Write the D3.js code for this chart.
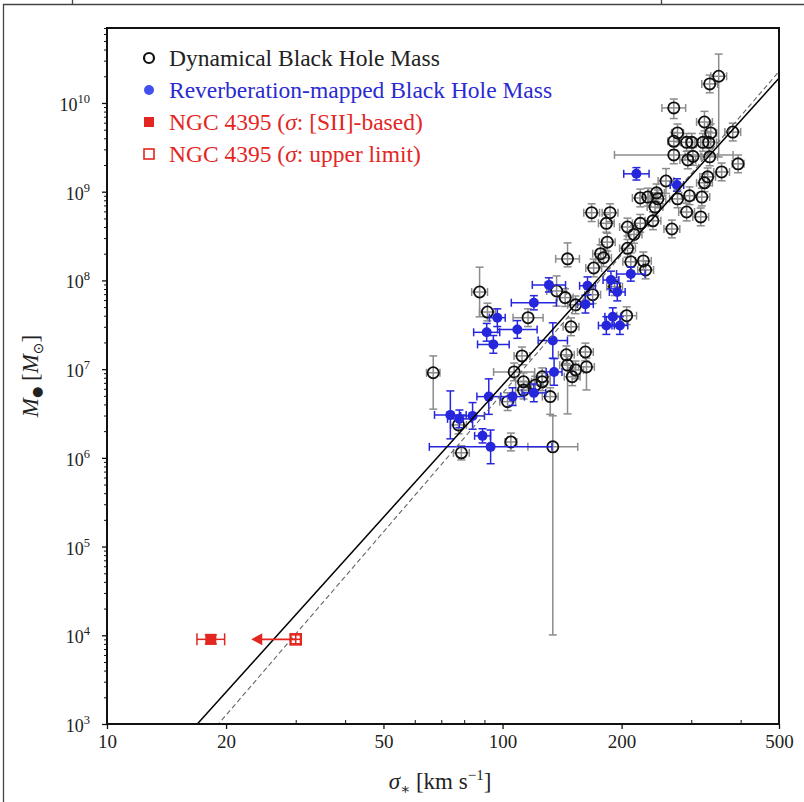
<!DOCTYPE html>
<html><head><meta charset="utf-8">
<script src="https://cdn.jsdelivr.net/npm/d3@7"></script>
<style>body{margin:0;background:#fff;} svg{display:block;} text{font-family:"Liberation Serif","DejaVu Serif",serif;}</style>
</head><body>
<svg id="chart" width="804" height="802"></svg>
<script>
// ---------- data ----------
// Dynamical black-hole masses: sigma [km/s], mass [Msun], sigma error (dex), mass error low/high (dex)
const dynSigma = [352,334,271,324,382,277,336,271,292,301,321,332,271,303,294,334,394,358,330,324,
  259,319,297,277,245,233,223,247,243,292,317,168,187,183,207,223,240,268,215,184,
  207,177,180,146,170,211,227,230,192,137,144,153,169,87.5,91.6,116,149,206,112,145,
  162,66.8,107,146,153,163,150,113,113,121,126,126,132,103,77.4,78.7,105,134];
const dynMass = [2.0e10,1.64e10,8.8e9,6.1e9,4.7e9,4.6e9,4.6e9,3.7e9,3.6e9,3.6e9,3.6e9,3.6e9,2.6e9,2.5e9,2.28e9,2.47e9,2.06e9,1.67e9,1.47e9,1.26e9,
  1.32e9,8.7e8,9.0e8,8.3e8,9.7e8,8.7e8,8.5e8,8.3e8,6.7e8,5.9e8,5.2e8,5.8e8,5.8e8,4.4e8,4.0e8,4.4e8,4.7e8,3.8e8,3.3e8,2.7e8,
  2.3e8,2.0e8,1.8e8,1.75e8,1.38e8,1.62e8,1.66e8,1.31e8,8.5e7,7.6e7,6.4e7,5.3e7,6.9e7,7.4e7,4.4e7,3.8e7,3.0e7,4.0e7,1.41e7,1.45e7,
  1.56e7,9.1e6,9.3e6,1.11e7,9.8e6,1.06e7,8.2e6,7.2e6,5.8e6,6.6e6,8.2e6,7.2e6,4.9e6,4.3e6,2.35e6,1.14e6,1.51e6,1.33e6];
const dynSigmaErr = [0.02,0.02,0.03,0.02,0.02,0.015,0.015,0.015,0.015,0.015,0.02,0.02,0.15,0.02,0.02,0.02,0.015,0.02,0.02,0.02,
  0.02,0.02,0.02,0.02,0.02,0.02,0.02,0.02,0.02,0.02,0.02,0.02,0.02,0.02,0.02,0.02,0.02,0.02,0.02,0.02,
  0.02,0.02,0.02,0.03,0.02,0.02,0.02,0.02,0.02,0.025,0.02,0.02,0.02,0.02,0.02,0.038,0.02,0.025,0.02,0.02,
  0.02,0.017,0.052,0.02,0.02,0.02,0.02,0.02,0.02,0.02,0.02,0.02,0.02,0.02,0.02,0.02,0.015,0.063];
const dynMassErrLo = [0.91,0.1,0.12,0.1,0.1,0.1,0.1,0.1,0.1,0.1,0.1,0.12,0.1,0.1,0.1,0.1,0.1,0.1,0.1,0.1,
  0.14,0.1,0.1,0.1,0.1,0.1,0.1,0.1,0.1,0.1,0.1,0.1,0.1,0.1,0.1,0.1,0.1,0.1,0.1,0.1,
  0.1,0.1,0.1,0.09,0.1,0.1,0.1,0.1,0.1,0.17,0.1,0.1,0.1,0.28,0.1,0.1,0.1,0.1,0.1,0.1,
  0.1,0.41,0.1,0.55,0.1,0.26,0.1,0.1,0.1,0.1,0.1,0.1,0.2,0.1,0.1,0.08,0.1,2.12];
const dynMassErrHi = [0.25,0.1,0.1,0.12,0.1,0.1,0.1,0.1,0.1,0.1,0.1,0.12,0.1,0.1,0.1,0.1,0.1,0.1,0.1,0.1,
  0.14,0.1,0.1,0.1,0.1,0.1,0.1,0.1,0.1,0.1,0.1,0.1,0.1,0.1,0.1,0.1,0.1,0.1,0.1,0.1,
  0.1,0.1,0.1,0.18,0.1,0.1,0.1,0.1,0.1,0.17,0.1,0.1,0.1,0.28,0.1,0.1,0.1,0.1,0.1,0.1,
  0.1,0.19,0.1,0.1,0.1,0.1,0.1,0.1,0.1,0.1,0.1,0.1,0.1,0.1,0.1,0.08,0.1,0.35];

// Reverberation-mapped black-hole masses
const revSigma = [218,276,211,188,195,164,131,162,120,97,109,190,183,198,91.2,94.8,134,135,120,106,92.3,73.8,77.8,84.0,89,93.3];
const revMass = [1.59e9,1.19e9,1.18e8,1.01e8,7.4e7,8.7e7,8.9e7,5.4e7,5.6e7,3.8e7,2.8e7,3.9e7,3.1e7,3.1e7,2.6e7,1.9e7,2.1e7,9.3e6,5.4e6,4.9e6,4.9e6,3.05e6,2.75e6,2.97e6,1.77e6,1.33e6];
const revSigmaErr = [0.032,0.017,0.036,0.02,0.02,0.02,0.042,0.02,0.057,0.02,0.05,0.02,0.02,0.02,0.033,0.04,0.037,0.02,0.03,0.03,0.03,0.04,0.03,0.03,0.02,0.155];
const revMassErr = [0.07,0.07,0.08,0.1,0.1,0.1,0.08,0.1,0.08,0.1,0.1,0.1,0.1,0.1,0.1,0.1,0.2,0.15,0.1,0.1,0.2,0.27,0.1,0.15,0.08,0.19];

// NGC 4395
const ngcSigma = [18.3];        // [SII]-based
const ngcSigmaErr = [0.035];
const ngcMass = [9.0e3];
const ngcMassErr = [0.05];
const ngcUpperSigma = [30.0];   // upper limit
const ngcArrowTo = [23.7];

// M-sigma relations: [log M at sigma=200, slope]
const relSolid = [8.31, 4.95];
const relDashed = [8.29, 5.19];

// ticks and labels
const xTicksMajor = [10,20,50,100,200,500];
const xTicksMinor = [30,40,60,70,80,90,300,400];
const yTickExps = [3,4,5,6,7,8,9,10];
const legendLabels = ["Dynamical Black Hole Mass","Reverberation-mapped Black Hole Mass","NGC 4395 (σ: [SII]-based)","NGC 4395 (σ: upper limit)"];

// ---------- drawing ----------
const svg = d3.select('#chart');
const L = 107, R = 779, T = 28, B = 724;
const x = d3.scaleLog().domain([10,500]).range([L,R]);
const y = d3.scaleLog().domain([1e3,7e10]).range([B,T]);

const BLUE = '#2626dc', RED = '#e3261f', GREY = '#8c8c8c';

// outer frame of the screenshot
svg.append('path').attr('d','M3.5,802 V4.5 H804 M72.5,0 V4.5 M661.5,0 V4.5')
  .attr('fill','none').attr('stroke','#444').attr('stroke-width',1.3);

svg.append('defs').append('clipPath').attr('id','clip')
  .append('rect').attr('x',L).attr('y',T).attr('width',R-L).attr('height',B-T);

const plot = svg.append('g').attr('clip-path','url(#clip)');

// error-bar helper
function errbar(g, sx, sy, sxl, sxh, syl, syh, color, cap) {
  g.append('line').attr('x1',x(sxl)).attr('x2',x(sxh)).attr('y1',y(sy)).attr('y2',y(sy))
    .attr('stroke',color).attr('stroke-width',1.5);
  g.append('line').attr('x1',x(sx)).attr('x2',x(sx)).attr('y1',y(syl)).attr('y2',y(syh))
    .attr('stroke',color).attr('stroke-width',1.5);
  [sxl,sxh].forEach(v=>g.append('line').attr('x1',x(v)).attr('x2',x(v)).attr('y1',y(sy)-cap).attr('y2',y(sy)+cap)
    .attr('stroke',color).attr('stroke-width',1.5));
  [syl,syh].forEach(v=>g.append('line').attr('x1',x(sx)-cap).attr('x2',x(sx)+cap).attr('y1',y(v)).attr('y2',y(v))
    .attr('stroke',color).attr('stroke-width',1.5));
}

// dynamical points
const gDynErr = plot.append('g');
dynSigma.forEach((s,i)=>{
  const m = dynMass[i];
  errbar(gDynErr, s, m, s/10**dynSigmaErr[i], s*10**dynSigmaErr[i], m/10**dynMassErrLo[i], m*10**dynMassErrHi[i], GREY, 4);
});
plot.append('g').selectAll('circle').data(dynSigma).join('circle')
  .attr('cx',d=>x(d)).attr('cy',(d,i)=>y(dynMass[i])).attr('r',5.6)
  .attr('fill','none').attr('stroke','#111').attr('stroke-width',1.8);

// reverberation points
const gRevErr = plot.append('g');
revSigma.forEach((s,i)=>{
  const m = revMass[i];
  errbar(gRevErr, s, m, s/10**revSigmaErr[i], s*10**revSigmaErr[i], m/10**revMassErr[i], m*10**revMassErr[i], BLUE, 4);
});
plot.append('g').selectAll('circle').data(revSigma).join('circle')
  .attr('cx',d=>x(d)).attr('cy',(d,i)=>y(revMass[i])).attr('r',5)
  .attr('fill',BLUE);

// relations
function rel(p){ return d3.line().x(d=>x(d)).y(d=>y(10**(p[0]+p[1]*Math.log10(d/200)))); }
const sgrid = [10,500];
plot.append('path').datum(sgrid).attr('d',rel(relDashed)).attr('fill','none')
  .attr('stroke','#666').attr('stroke-width',1.1).attr('stroke-dasharray','5,3');
plot.append('path').datum(sgrid).attr('d',rel(relSolid)).attr('fill','none')
  .attr('stroke','#000').attr('stroke-width',1.5);

// NGC 4395 filled
const gN = plot.append('g');
ngcSigma.forEach((s,i)=>{
  const m = ngcMass[i];
  errbar(gN, s, m, s/10**ngcSigmaErr[i], s*10**ngcSigmaErr[i], m/10**ngcMassErr[i], m*10**ngcMassErr[i], RED, 6);
  gN.append('rect').attr('x',x(s)-5.5).attr('y',y(m)-5.5).attr('width',11).attr('height',11).attr('fill',RED);
});
// NGC 4395 upper limit
ngcUpperSigma.forEach((s,i)=>{
  const m = ngcMass[i];
  gN.append('line').attr('x1',x(s)).attr('x2',x(ngcArrowTo[i])+6).attr('y1',y(m)).attr('y2',y(m))
    .attr('stroke',RED).attr('stroke-width',1.6);
  const ax = x(ngcArrowTo[i]), ay = y(m);
  gN.append('path').attr('d',`M${ax-4},${ay} L${ax+7},${ay-6} L${ax+7},${ay+6} Z`).attr('fill',RED);
  errbar(gN, s, m, s/10**0.012, s*10**0.012, m/10**ngcMassErr[i], m*10**ngcMassErr[i], RED, 6);
  gN.append('rect').attr('x',x(s)-5.5).attr('y',y(m)-5.5).attr('width',11).attr('height',11)
    .attr('fill','none').attr('stroke',RED).attr('stroke-width',1.6);
});

// axes frame
svg.append('rect').attr('x',L).attr('y',T).attr('width',R-L).attr('height',B-T)
  .attr('fill','none').attr('stroke','#111').attr('stroke-width',2);

// x axis
const xAx = svg.append('g').attr('transform',`translate(0,${B})`)
  .call(d3.axisBottom(x).tickValues(xTicksMajor).tickFormat(d3.format('d')).tickSize(5).tickPadding(6));
xAx.select('.domain').remove();
xAx.selectAll('.tick line').attr('stroke','#111').attr('stroke-width',1.3);
xAx.selectAll('.tick text').attr('font-size',19).attr('fill','#222').style('font-family','"Liberation Serif",serif');
const xMin = svg.append('g').attr('transform',`translate(0,${B})`)
  .call(d3.axisBottom(x).tickValues(xTicksMinor).tickFormat('').tickSize(-4));
xMin.select('.domain').remove();
xMin.selectAll('.tick line').attr('stroke','#111').attr('stroke-width',1);

// y axis
const yAx = svg.append('g').attr('transform',`translate(${L},0)`)
  .call(d3.axisLeft(y).tickValues(yTickExps.map(e=>10**e)).tickFormat('').tickSize(5));
yAx.select('.domain').remove();
yAx.selectAll('.tick line').attr('stroke','#111').attr('stroke-width',1.3);
const yMinorVals = [];
for (let e=3;e<=10;e++) for (let k=2;k<=9;k++){ const v=k*10**e; if (v<=7e10) yMinorVals.push(v); }
const yMin = svg.append('g').attr('transform',`translate(${L},0)`)
  .call(d3.axisLeft(y).tickValues(yMinorVals).tickFormat('').tickSize(3));
yMin.select('.domain').remove();
yMin.selectAll('.tick line').attr('stroke','#111').attr('stroke-width',1);

const yl = svg.append('g');
yTickExps.forEach(e=>{
  const t = yl.append('text').attr('x',90).attr('y',y(10**e)+8).attr('text-anchor','end')
    .attr('font-size',18).attr('fill','#222');
  t.append('tspan').text('10');
  t.append('tspan').attr('dy',-8).attr('font-size',12.5).text(e);
});

// axis titles
const xt = svg.append('text').attr('x',440).attr('y',789).attr('text-anchor','middle')
  .attr('font-size',23).attr('fill','#222');
xt.append('tspan').attr('font-style','italic').text('σ');
xt.append('tspan').attr('font-size',15).attr('dy',5).text('∗');
xt.append('tspan').attr('dy',-5).text(' [km s');
xt.append('tspan').attr('font-size',15).attr('dy',-9).text('−1');
xt.append('tspan').attr('dy',9).text(']');

const yt = svg.append('text').attr('transform','translate(38,376) rotate(-90)').attr('text-anchor','middle')
  .attr('font-size',23).attr('fill','#222');
yt.append('tspan').attr('font-style','italic').text('M');
yt.append('tspan').attr('font-size',13).attr('dy',3).attr('font-family','DejaVu Sans').text('●');
yt.append('tspan').attr('dy',-3).text(' [');
yt.append('tspan').attr('font-style','italic').text('M');
yt.append('tspan').attr('font-size',14).attr('dy',5).attr('font-family','DejaVu Sans').text('⊙');
yt.append('tspan').attr('dy',-5).text(']');

// legend
const lg = svg.append('g');
const rowsY = [58,90,122,154];
lg.append('circle').attr('cx',149).attr('cy',rowsY[0]).attr('r',5).attr('fill','none').attr('stroke','#111').attr('stroke-width',2.2);
lg.append('circle').attr('cx',149).attr('cy',rowsY[1]).attr('r',5).attr('fill','#4450ee');
lg.append('rect').attr('x',144).attr('y',rowsY[2]-5).attr('width',10).attr('height',10).attr('fill',RED);
lg.append('rect').attr('x',144).attr('y',rowsY[3]-5).attr('width',10).attr('height',10).attr('fill','none').attr('stroke',RED).attr('stroke-width',1.6);
const lcol = ['#222','#2a2ad0',RED,RED];
legendLabels.forEach((lab,i)=>{
  const t = lg.append('text').attr('x',169).attr('y',rowsY[i]+8).attr('font-size',23.5).attr('fill',lcol[i]);
  const parts = lab.split('σ');
  t.append('tspan').text(parts[0]);
  if (parts.length>1){
    t.append('tspan').attr('font-style','italic').text('σ');
    t.append('tspan').text(parts[1]);
  }
});
</script>
</body></html>
